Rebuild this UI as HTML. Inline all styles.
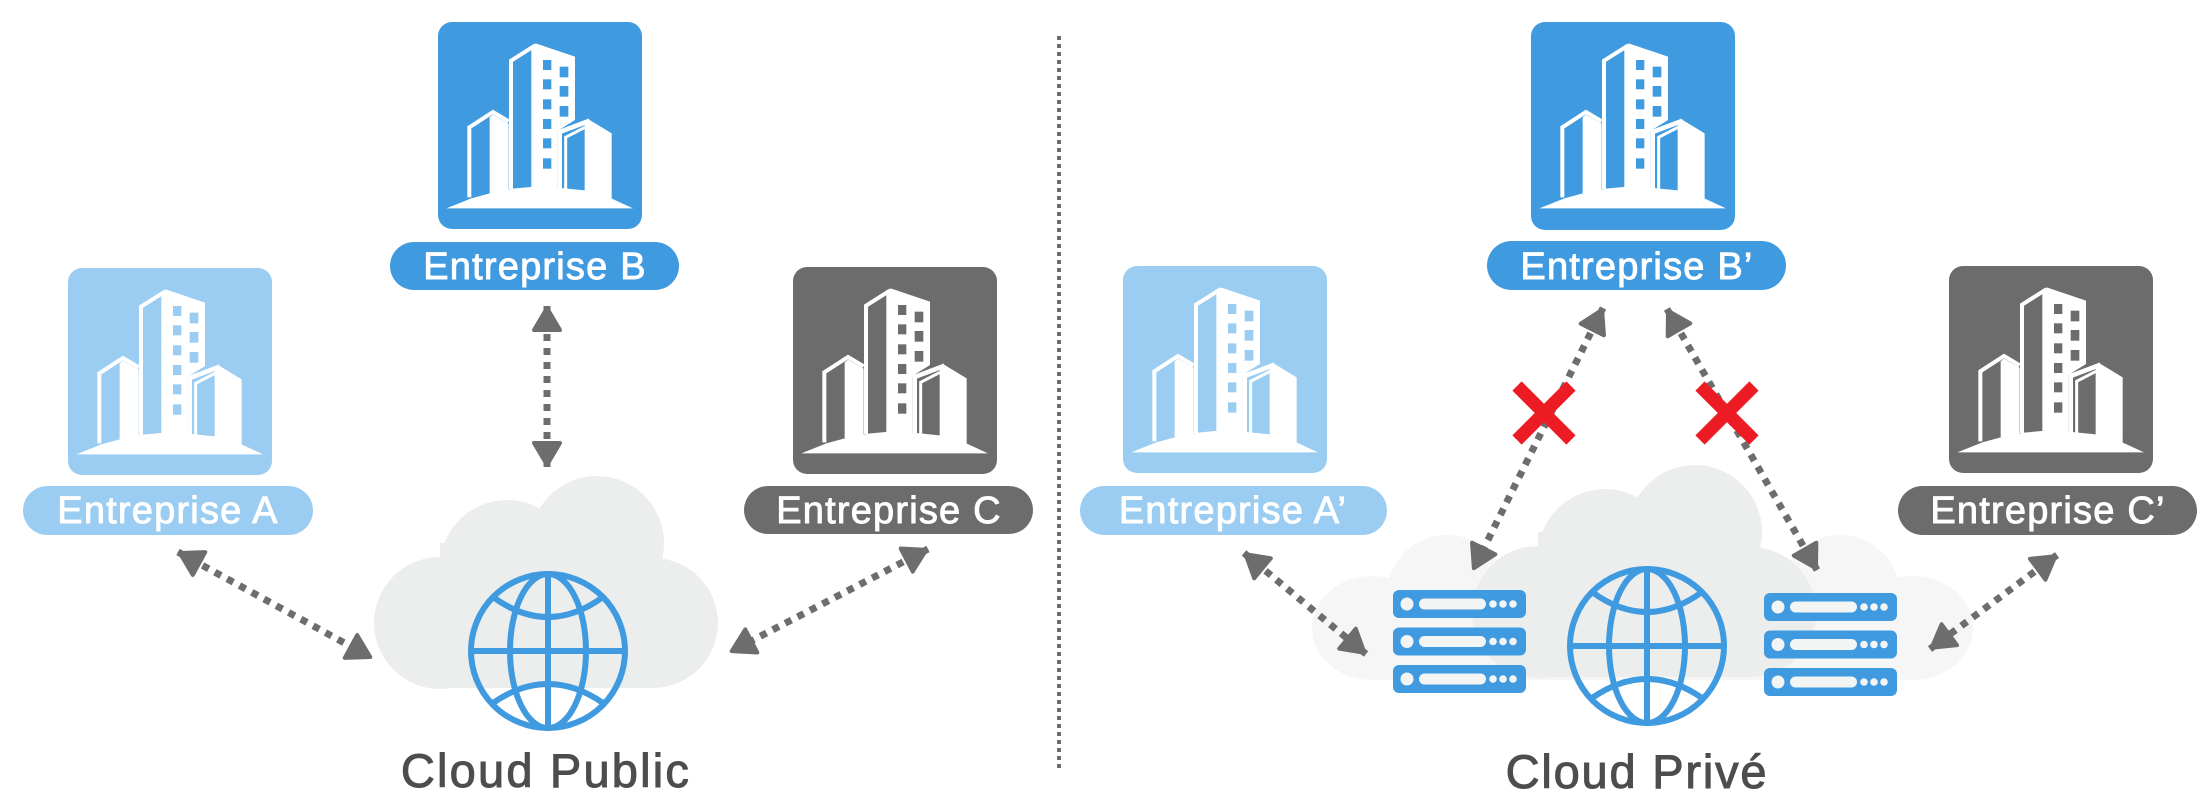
<!DOCTYPE html>
<html>
<head>
<meta charset="utf-8">
<style>
  html, body { margin: 0; padding: 0; background: #ffffff; }
  body { width: 2200px; height: 800px; overflow: hidden; }
  svg { display: block; }
  text { font-family: "Liberation Sans", "DejaVu Sans", sans-serif; }
</style>
</head>
<body>
<svg width="2200" height="800" viewBox="0 0 2200 800" xmlns="http://www.w3.org/2000/svg">
  <defs>
    <marker id="ah" viewBox="0 0 32 32" refX="28" refY="16" markerWidth="32" markerHeight="32" markerUnits="userSpaceOnUse" orient="auto-start-reverse" overflow="visible">
      <path d="M26,16 L4,3 L4,29 Z" fill="#6D6D6D" stroke="#6D6D6D" stroke-width="4" stroke-linejoin="round"/>
    </marker>

    <g id="bld">
      <polygon fill="#fff" points="25,565 100,535 155,520 225,506 290,500 358,503 440,511 520,535 585,565"/>
      <polyline fill="none" stroke="#fff" stroke-width="12" points="94,532 94,322 165,276 212,304"/>
      <polygon fill="#fff" points="155,292 165,284 212,311 212,512 155,520"/>
      <polyline fill="none" stroke="#fff" stroke-width="12" points="219,507 219,122 292,76"/>
      <polygon fill="#fff" points="280,86 293,70 411,110 411,300 358,333 358,503 280,506"/>
      <g fill="currentColor">
        <rect x="315" y="120" width="25" height="30"/>
        <rect x="315" y="178" width="25" height="30"/>
        <rect x="315" y="238" width="25" height="30"/>
        <rect x="315" y="297" width="25" height="30"/>
        <rect x="315" y="355" width="25" height="30"/>
        <rect x="315" y="415" width="25" height="31"/>
        <rect x="365" y="140" width="26" height="32"/>
        <rect x="365" y="198" width="26" height="32"/>
        <rect x="365" y="258" width="26" height="32"/>
      </g>
      <polyline fill="none" stroke="#fff" stroke-width="14" points="365,505 365,336 455,302"/>
      <polyline fill="none" stroke="#fff" stroke-width="9" points="383,512 383,352 441,322"/>
      <polygon fill="#fff" points="440,312 455,300 521,340 521,537 440,512"/>
    </g>

    <g id="cloud">
      <circle cx="440" cy="623" r="66"/>
      <circle cx="507" cy="567" r="67"/>
      <circle cx="597" cy="543" r="67"/>
      <circle cx="653" cy="623" r="65"/>
      <rect x="440" y="543" width="213" height="145"/>
    </g>

    <g id="globe" fill="none" stroke="#3F9AE0" stroke-width="6">
      <circle cx="0" cy="0" r="77"/>
      <ellipse cx="0" cy="0" rx="38" ry="77"/>
      <line x1="0" y1="-77" x2="0" y2="77"/>
      <line x1="-77" y1="0" x2="77" y2="0"/>
      <path d="M-55,-54 Q0,-14 55,-54"/>
      <path d="M-55,52 Q0,14 55,52"/>
    </g>

    <g id="row">
      <rect x="0" y="0" width="133" height="28" rx="6" fill="#3F9AE0"/>
      <circle cx="14" cy="14" r="6.5" fill="#F3F4F4"/>
      <rect x="26" y="8.5" width="67" height="11" rx="5.5" fill="#F3F4F4"/>
      <circle cx="100" cy="14" r="3.8" fill="#F3F4F4"/>
      <circle cx="110" cy="14" r="3.8" fill="#F3F4F4"/>
      <circle cx="120" cy="14" r="3.8" fill="#F3F4F4"/>
    </g>
    <g id="srv">
      <use href="#row" transform="translate(0,0)"/>
      <use href="#row" transform="translate(0,37.5)"/>
      <use href="#row" transform="translate(0,75)"/>
    </g>
  </defs>

  <line x1="1059" y1="36" x2="1059" y2="768" stroke="#6B6B6B" stroke-width="4" stroke-dasharray="4 4"/>

  <!-- LEFT -->
  <g fill="#ECEDED"><use href="#cloud"/></g>
  <use href="#globe" transform="translate(548,651)"/>

  <rect x="68" y="268" width="204" height="207" rx="14" fill="#9ACDF1"/>
  <use href="#bld" transform="translate(68,268) scale(0.33333) translate(0,-6)" style="color:#9ACDF1"/>
  <rect x="438" y="22" width="204" height="207" rx="14" fill="#3F9AE0"/>
  <use href="#bld" transform="translate(438,22) scale(0.33333) translate(0,-6)" style="color:#3F9AE0"/>
  <rect x="793" y="267" width="204" height="207" rx="14" fill="#6C6C6C"/>
  <use href="#bld" transform="translate(793,267) scale(0.33333) translate(0,-6)" style="color:#6C6C6C"/>

  <g font-size="38" fill="#ffffff" stroke="#ffffff" stroke-width="0.9" letter-spacing="1.2" text-anchor="middle">
    <rect x="23" y="486" width="290" height="49" rx="24.5" fill="#9ACDF1" stroke="none"/>
    <text x="168" y="523">Entreprise A</text>
    <rect x="390" y="242" width="289" height="48" rx="24" fill="#3F9AE0" stroke="none"/>
    <text x="535" y="279">Entreprise B</text>
    <rect x="744" y="486" width="289" height="48" rx="24" fill="#6C6C6C" stroke="none"/>
    <text x="889" y="523">Entreprise C</text>
  </g>

  <g stroke="#6D6D6D" stroke-width="7" stroke-dasharray="7 7" fill="none">
    <line x1="547" y1="306" x2="547" y2="467" marker-start="url(#ah)" marker-end="url(#ah)"/>
    <line x1="178" y1="552" x2="372" y2="658" marker-start="url(#ah)" marker-end="url(#ah)"/>
    <line x1="928" y1="549" x2="730" y2="652" marker-start="url(#ah)" marker-end="url(#ah)"/>
  </g>

  <text x="546" y="787" font-size="47" fill="#4D4D4D" stroke="#4D4D4D" stroke-width="1" letter-spacing="2.2" text-anchor="middle">Cloud Public</text>

  <!-- RIGHT -->
  <g fill="#F6F6F6">
    <ellipse cx="1372" cy="628" rx="60" ry="52"/>
    <circle cx="1447" cy="595" r="60"/>
    <circle cx="1840" cy="595" r="60"/>
    <ellipse cx="1913" cy="628" rx="60" ry="52"/>
    <rect x="1372" y="595" width="541" height="85"/>
  </g>
  <g fill="#ECEDED"><use href="#cloud" transform="translate(1098,-11)"/></g>

  <use href="#srv" transform="translate(1393,590)"/>
  <use href="#srv" transform="translate(1764,593)"/>
  <use href="#globe" transform="translate(1647,646)"/>

  <rect x="1123" y="266" width="204" height="207" rx="14" fill="#9ACDF1"/>
  <use href="#bld" transform="translate(1123,266) scale(0.33333) translate(0,-6)" style="color:#9ACDF1"/>
  <rect x="1531" y="22" width="204" height="208" rx="14" fill="#3F9AE0"/>
  <use href="#bld" transform="translate(1531,22) scale(0.33333) translate(0,-6)" style="color:#3F9AE0"/>
  <rect x="1949" y="266" width="204" height="207" rx="14" fill="#6C6C6C"/>
  <use href="#bld" transform="translate(1949,266) scale(0.33333) translate(0,-6)" style="color:#6C6C6C"/>

  <g font-size="38" fill="#ffffff" stroke="#ffffff" stroke-width="0.9" letter-spacing="1.2" text-anchor="middle">
    <rect x="1080" y="486" width="307" height="49" rx="24.5" fill="#9ACDF1" stroke="none"/>
    <text x="1233" y="523">Entreprise A’</text>
    <rect x="1487" y="241" width="299" height="49" rx="24.5" fill="#3F9AE0" stroke="none"/>
    <text x="1637" y="279">Entreprise B’</text>
    <rect x="1898" y="486" width="299" height="49" rx="24.5" fill="#6C6C6C" stroke="none"/>
    <text x="2048" y="523">Entreprise C’</text>
  </g>

  <g stroke="#6D6D6D" stroke-width="7" stroke-dasharray="7 7" fill="none">
    <line x1="1244" y1="553" x2="1366" y2="654" marker-start="url(#ah)" marker-end="url(#ah)"/>
    <line x1="1603" y1="308" x2="1473" y2="570" marker-start="url(#ah)" marker-end="url(#ah)"/>
    <line x1="1667" y1="309" x2="1817" y2="570" marker-start="url(#ah)" marker-end="url(#ah)"/>
    <line x1="2057" y1="555" x2="1930" y2="649" marker-start="url(#ah)" marker-end="url(#ah)"/>
  </g>

  <g stroke="#ED1C24" stroke-width="13" stroke-linecap="butt">
    <line x1="1517" y1="386" x2="1571" y2="440"/>
    <line x1="1571" y1="386" x2="1517" y2="440"/>
    <line x1="1700" y1="386" x2="1754" y2="440"/>
    <line x1="1754" y1="386" x2="1700" y2="440"/>
  </g>

  <text x="1637" y="788" font-size="47" fill="#4D4D4D" stroke="#4D4D4D" stroke-width="1" letter-spacing="1.8" text-anchor="middle">Cloud Privé</text>
</svg>
</body>
</html>
